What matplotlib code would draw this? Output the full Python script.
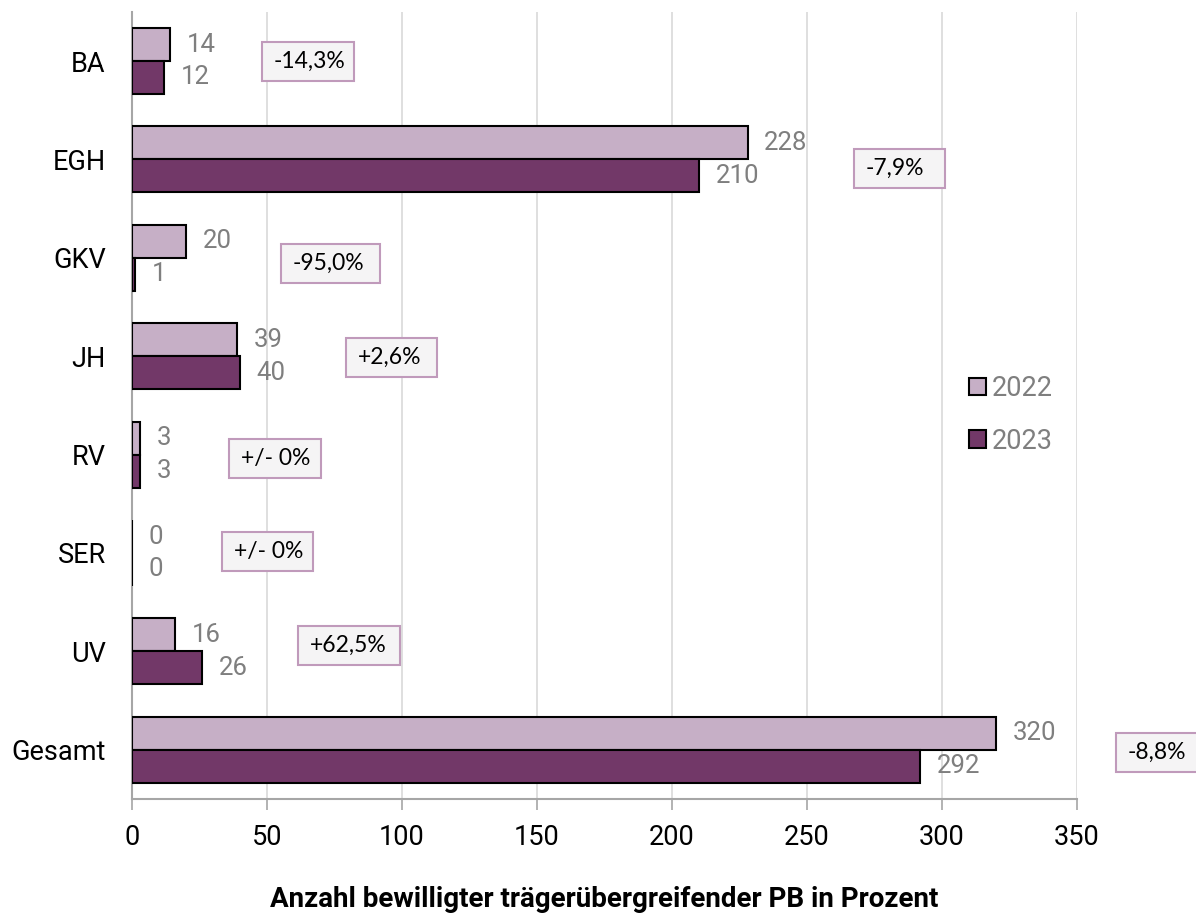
import matplotlib
matplotlib.use("Agg")
import matplotlib.pyplot as plt
from matplotlib.patches import Rectangle
from matplotlib.transforms import IdentityTransform
import numpy as np

categories = ["BA", "EGH", "GKV", "JH", "RV", "SER", "UV", "Gesamt"]
values_2022 = [14, 228, 20, 39, 3, 0, 16, 320]
values_2023 = [12, 210, 1, 40, 3, 0, 26, 292]
change_labels = ["-14,3%", "-7,9%", "-95,0%", "+2,6%", "+/- 0%", "+/- 0%", "+62,5%", "-8,8%"]
xticks = [0, 50, 100, 150, 200, 250, 300, 350]
xlabel = "Anzahl bewilligter trägerübergreifender PB in Prozent"

# placement of the change boxes: left edge (data x), vertical shift (px, down),
# box width (px)
box_left = [48.1, 267.4, 55.2, 79.3, 35.9, 33.3, 61.5, 364.4]
box_shift_px = [0, 9, 6, 1, 4, -1, -6, 3]
box_width_px = [92, 91, 99, 91, 92, 91, 102, 92]
box_height_px = 39
box_text_pad_px = 12

c2022 = "#c6afc6"
c2023 = "#723868"
gray_txt = "#7f7f7f"

plt.rcParams["font.family"] = ["Roboto", "DejaVu Sans"]

fig = plt.figure(figsize=(11.96, 9.15), dpi=100)
ax = fig.add_axes([0.1104, 0.1268, 0.79, 0.8603])

n = len(categories)
y = np.arange(n)
h = 0.335

b1 = ax.barh(y - h / 2, values_2022, height=h, color=c2022, edgecolor="black",
             linewidth=1.5, label="2022", zorder=3)
b2 = ax.barh(y + h / 2, values_2023, height=h, color=c2023, edgecolor="black",
             linewidth=1.5, label="2023", zorder=3)

for bars, vals in ((b1, values_2022), (b2, values_2023)):
    for rect, v in zip(bars, vals):
        ax.annotate(str(v), xy=(v, rect.get_y() + rect.get_height() / 2),
                    xytext=(12, 0), textcoords="offset points", ha="left",
                    va="center", fontsize=18.5, color=gray_txt, zorder=4)

ax.set_xlim(0, 350)
ax.set_ylim(n - 0.5, -0.5)
ax.set_yticks(y)
ax.set_yticklabels(categories, fontsize=19.5)
ax.set_xticks(xticks)
ax.set_xticklabels([str(t) for t in xticks], fontsize=19.5)
ax.tick_params(axis="y", length=0, pad=19)
ax.tick_params(axis="x", length=8, width=1.2, color="#a6a6a6", pad=10)

ax.grid(axis="x", color="#d9d9d9", linewidth=1.2, zorder=0)
ax.set_axisbelow(True)
for side in ("top", "right"):
    ax.spines[side].set_visible(False)
for side in ("left", "bottom"):
    ax.spines[side].set_color("#a6a6a6")
    ax.spines[side].set_linewidth(1.5)

ax.set_xlabel(xlabel, fontsize=20, fontweight="bold", labelpad=25)

ax.legend(loc="center left", bbox_to_anchor=(0.886, 0.488), frameon=False,
          fontsize=19.5, handlelength=0.63, handleheight=0.63, handletextpad=0.22,
          labelspacing=0.95, labelcolor=gray_txt, borderaxespad=0, borderpad=0)

# change boxes, sized in pixels and anchored to the category rows
ident = IdentityTransform()
for i, (lab, xl, dy, w) in enumerate(zip(change_labels, box_left, box_shift_px, box_width_px)):
    xd, yd = ax.transData.transform((xl, i))
    yd -= dy
    fig.patches.append(Rectangle((xd, yd - box_height_px / 2), w, box_height_px,
                                 transform=ident, facecolor="#f5f4f5",
                                 edgecolor="#c09abb", linewidth=1.5, zorder=5,
                                 figure=fig))
    fig.text(xd + box_text_pad_px, yd, lab, transform=ident, ha="left", va="center",
             fontsize=16.5, family=["Lato", "DejaVu Sans"], color="black", zorder=6)

fig.savefig("out.png", dpi=100)
